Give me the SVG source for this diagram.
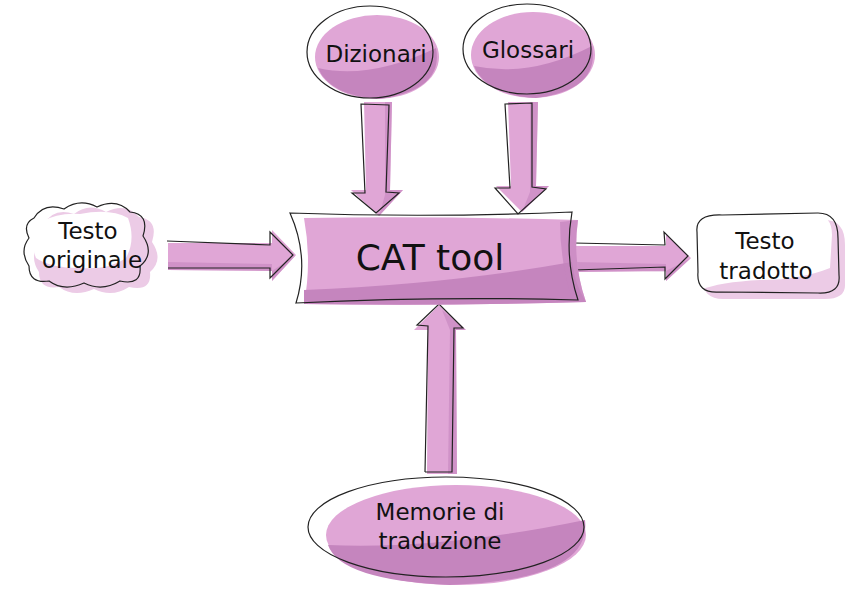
<svg xmlns="http://www.w3.org/2000/svg" width="860" height="594" viewBox="0 0 860 594">
<style>
.fill{fill:#e0a6d6;}
.dark{fill:#c585be;}
.pale{fill:#eccbe6;}
.line{fill:none;stroke:#222;stroke-width:1.2;}
.t{font-family:"DejaVu Sans","Liberation Sans",sans-serif;fill:#111;text-anchor:middle;}
</style>
<rect width="860" height="594" fill="#fff"/>
<g id="connectors">
  <path class="fill" d="M364,102 L392,102 L390,190 L403,190 L379,216 L351,190 L366,190 Z"/>
  <path class="dark" d="M385,102 L392,102 L390,190 L403,190 L379,216 L385,195 Z" opacity="0.6"/>
  <path class="line" d="M361,104 L389,105 L386,192 L399,193 L376,213 L352,193 L365,193 Z"/>
  <path class="fill" d="M508,102 L538,102 L536,186 L549,186 L522,212 L496,186 L511,186 Z"/>
  <path class="dark" d="M530,102 L538,102 L536,186 L549,186 L522,212 L530,192 Z" opacity="0.6"/>
  <path class="line" d="M505,104 L532,103 L532,187 L546,189 L518,214 L495,188 L510,188 Z"/>
  <path class="fill" d="M168,243 L272,243 L272,230 L296,255 L272,281 L272,271 L168,270 Z"/>
  <path class="dark" d="M168,262 L272,264 L272,281 L296,255 L272,271 L168,270 Z" opacity="0.6"/>
  <path class="line" d="M167,241 L270,245 L270,232 L293,255 L270,278 L270,268 L168,268"/>
  <path class="fill" d="M573,246 L666,246 L666,234 L691,258 L666,281 L666,271 L573,272 Z"/>
  <path class="dark" d="M573,262 L666,264 L666,281 L691,258 L666,271 L573,272 Z" opacity="0.6"/>
  <path class="line" d="M574,243 L665,245 L664,232 L688,256 L665,279 L665,267 L574,270"/>
  <path class="fill" d="M427,474 L457,474 L456,330 L466,330 L439,305 L414,330 L428,330 Z"/>
  <path class="dark" d="M448,474 L457,474 L456,330 L466,330 L442,310 L450,330 Z" opacity="0.6"/>
  <path class="line" d="M425,472 L452,472 L454,328 L463,328 L439,304 L417,325 L428,326 L425,472"/>
</g>
<g id="dizionari">
  <ellipse class="fill" cx="377" cy="57" rx="62" ry="42"/>
  <path class="dark" d="M318,68 Q370,80 436,48 Q444,90 380,99 Q330,96 318,68 Z"/>
  <ellipse class="line" cx="370" cy="52" rx="63" ry="46"/>
  <text class="t" x="376" y="62" font-size="23">Dizionari</text>
</g>
<g id="glossari">
  <ellipse class="fill" cx="533" cy="55" rx="62" ry="43"/>
  <path class="dark" d="M474,66 Q530,78 592,46 Q600,90 536,98 Q486,95 474,66 Z"/>
  <ellipse class="line" cx="527" cy="49" rx="64" ry="45"/>
  <text class="t" x="528" y="58" font-size="23">Glossari</text>
</g>
<g id="cat">
  <path class="fill" d="M304,218 Q440,216 578,220 Q572,262 586,302 Q445,306 304,304 Q312,262 304,218 Z"/>
  <path class="dark" d="M304,290 Q450,284 572,262 Q575,285 586,302 Q445,306 304,304 Z"/>
  <path class="dark" d="M560,222 L578,220 Q572,262 586,302 L572,300 Q560,260 560,222 Z" opacity="0.7"/>
  <path class="line" d="M290,213 Q430,218 572,212 Q564,258 578,300 Q440,296 296,303 Q310,258 290,213 Z"/>
  <text class="t" x="430" y="270" font-size="36">CAT tool</text>
</g>
<g id="testo-originale">
  <path class="pale" d="M44,224 Q54,207 74,214 Q89,202 106,212 Q126,202 139,217 Q159,220 152,242 Q164,260 150,272 Q152,292 129,287 Q112,298 94,289 Q74,298 59,287 Q39,290 39,272 Q29,257 39,244 Q32,230 44,224 Z"/>
  <path fill="#fff" d="M40,222 Q60,212 80,214 Q110,208 128,218 Q136,240 126,258 Q110,270 80,268 Q50,268 36,258 Q28,238 40,222 Z"/>
  <path class="line" d="M34,218 Q44,202 64,209 Q80,198 97,207 Q117,198 130,212 Q150,214 143,236 Q155,254 140,266 Q142,286 120,281 Q102,292 84,283 Q64,292 49,281 Q29,284 29,266 Q19,251 29,238 Q22,224 34,218 Z"/>
  <text class="t" x="88" y="239" font-size="23">Testo</text>
  <text class="t" x="92" y="268" font-size="23">originale</text>
</g>
<g id="testo-tradotto">
  <path class="pale" d="M705,232 Q703,218 733,220 L825,220 Q845,220 845,245 L845,284 Q846,300 822,299 L725,299 Q703,300 703,280 Z"/>
  <path fill="#fff" d="M700,225 Q700,215 720,215 L815,215 Q832,215 832,235 L830,268 Q800,280 760,280 Q720,282 700,290 Z"/>
  <path class="line" d="M697,232 Q695,214 722,215 L818,213 Q838,213 838,238 L839,275 Q841,294 818,293 L720,292 Q696,294 698,272 Z"/>
  <text class="t" x="765" y="249" font-size="23">Testo</text>
  <text class="t" x="766" y="279" font-size="23">tradotto</text>
</g>
<g id="memorie">
  <ellipse class="fill" cx="456" cy="535" rx="130" ry="50"/>
  <path class="dark" d="M328,545 Q440,550 585,520 Q592,580 450,585 Q340,580 328,545 Z"/>
  <ellipse class="line" cx="446" cy="527" rx="138" ry="50"/>
  <text class="t" x="440" y="520" font-size="23">Memorie di</text>
  <text class="t" x="440" y="549" font-size="23">traduzione</text>
</g>
</svg>
